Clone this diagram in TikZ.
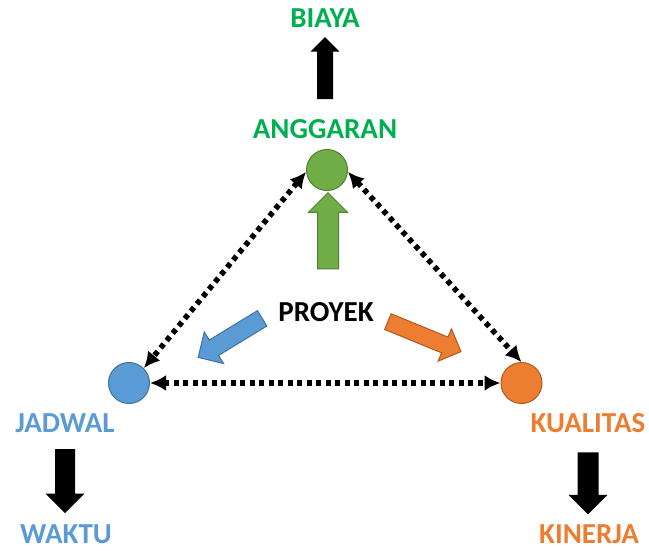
\documentclass[tikz,border=0pt]{standalone}
\usepackage{fontspec}
\setmainfont{Carlito}
\usepackage{tikz}
\usetikzlibrary{arrows.meta,shapes.arrows,positioning}
\definecolor{txtgreen}{HTML}{00B050}
\definecolor{txtblue}{HTML}{5B9BD5}
\definecolor{txtorange}{HTML}{ED7D31}
\definecolor{fillgreen}{HTML}{70AD47}
\definecolor{linegreen}{HTML}{507E32}
\definecolor{lineblue}{HTML}{41719C}
\definecolor{lineorange}{HTML}{AE5A21}
\tikzstyle{vertex}=[draw,circle,line width=1pt,minimum size=41pt,inner sep=0pt]
\tikzstyle{word}=[font=\fontsize{29}{34}\selectfont\bfseries,inner sep=0pt,anchor=base]
\tikzstyle{fat}=[single arrow,inner xsep=0pt,line width=1pt]

\begin{document}
\begin{tikzpicture}[x=1pt,y=-1pt,
dotlink/.style={line width=5.5pt,dash pattern=on 5pt off 4.5pt,
  {Latex[length=16pt,width=16pt]}-{Latex[length=16pt,width=16pt]}}]
\useasboundingbox (0,0) rectangle (649,550);
% texts
\node [word,txtgreen] (biaya) at (325,27) {BIAYA};
\node [word,txtgreen] (anggaranlbl) at (325,138) {ANGGARAN};
\node [word] (proyek) at (326,321) {PROYEK};
\node [word,txtblue] (jadwallbl) at (65,432) {JADWAL};
\node [word,txtblue] (waktu) at (66,543) {WAKTU};
\node [word,txtorange] (kualitaslbl) at (588,432) {KUALITAS};
\node [word,txtorange] (kinerja) at (589,543) {KINERJA};
% circles
\node [vertex,draw=linegreen,fill=fillgreen] (anggaran) at (327,170) {};
\node [vertex,draw=lineblue,fill=txtblue] (jadwal) at (129,383) {};
\node [vertex,draw=lineorange,fill=txtorange] (kualitas) at (521.5,383) {};
% black arrows
\node [fat,fill=black,minimum height=62pt,inner ysep=7.5pt,
  single arrow head extend=6.5pt,rotate=90] (upbiaya) at (325,72) {};
\node [fat,fill=black,minimum height=64pt,inner ysep=9.5pt,
  single arrow head extend=9.5pt,rotate=-90] (downwaktu) at (65,476) {};
\node [fat,fill=black,minimum height=62pt,inner ysep=10pt,
  single arrow head extend=9pt,rotate=-90] (downkinerja) at (588,478) {};
% project arrows
\node [fat,draw=linegreen,fill=fillgreen,minimum height=76pt,inner ysep=10pt,
  single arrow head extend=9pt,rotate=90] (togreen) at (328,236) {};
\node [fat,draw=lineblue,fill=txtblue,minimum height=75pt,inner ysep=8.5pt,
  single arrow head extend=9.5pt,rotate=211.4] (toblue) at (234,335.5) {};
\node [fat,draw=lineorange,fill=txtorange,minimum height=79pt,inner ysep=8pt,
  single arrow head extend=9pt,rotate=-22.3] (toorange) at (420.5,335) {};
% links
\draw [dotlink] (anggaran.185) -- (jadwal.45);
\draw [dotlink] (anggaran.355) -- (kualitas.north);
\draw [dotlink] (jadwal.east) -- (kualitas.west);
\end{tikzpicture}
\end{document}
